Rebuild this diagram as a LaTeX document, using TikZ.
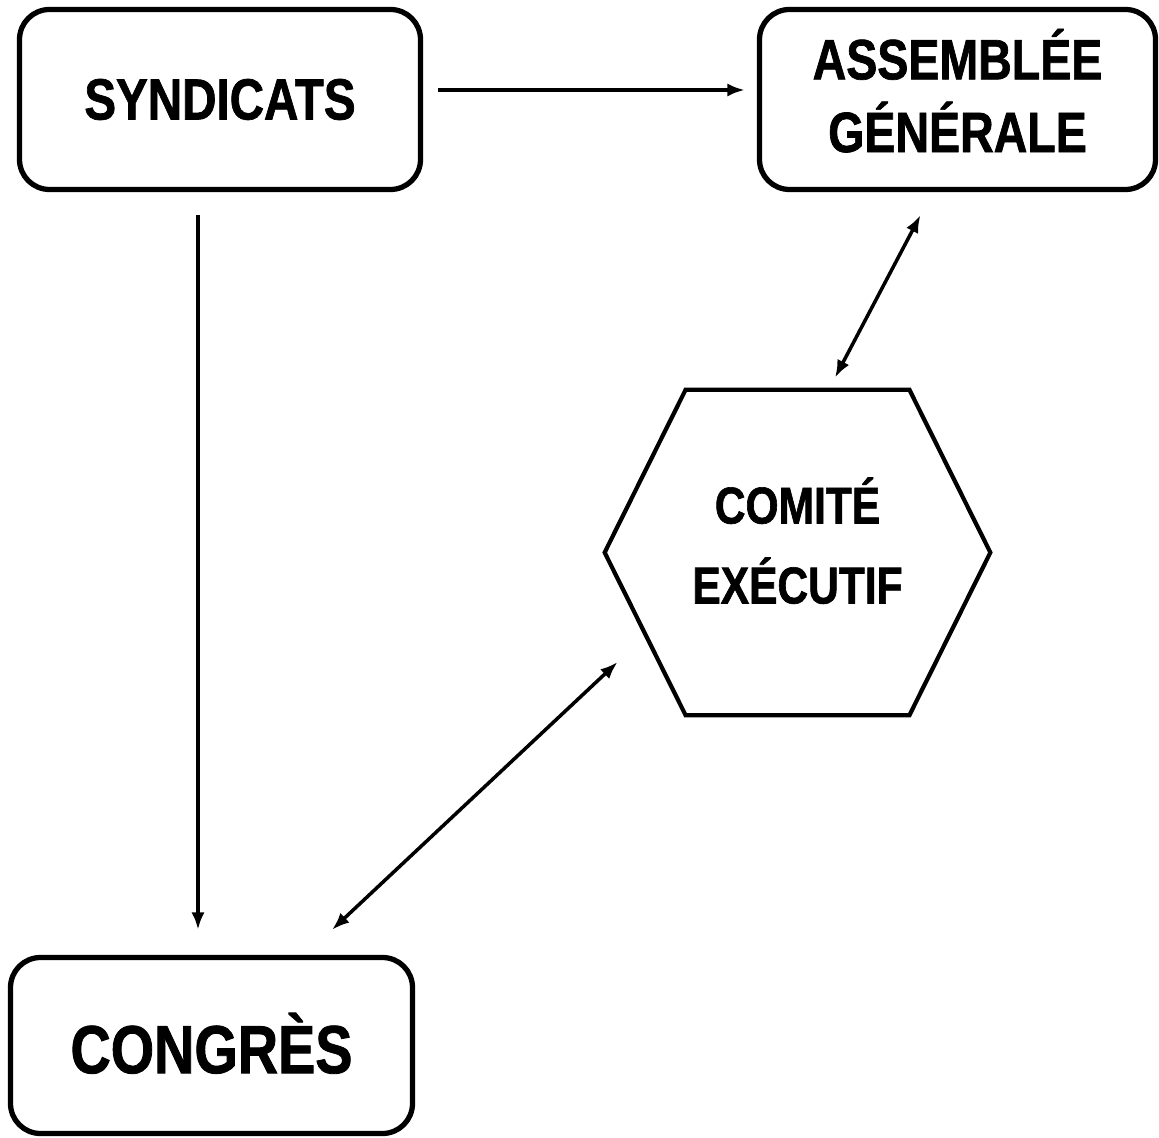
\documentclass[tikz,border=0pt]{standalone}
\usepackage{fontspec}
\setmainfont{Liberation Sans}[FakeStretch=0.82, BoldFeatures={FakeBold=1.2}]
\usetikzlibrary{arrows.meta, positioning}

\begin{document}
\begin{tikzpicture}[>={Latex[length=10pt,width=7.5pt]},
  boite/.style={draw, line width=3pt, rounded corners=0.6cm, align=center, font=\bfseries},
  lien/.style={line width=2pt}]
\useasboundingbox (0,0) rectangle (23.18,-22.76);
\node[boite, minimum width=8.02cm, minimum height=3.6cm, font=\bfseries\fontsize{33}{40}\selectfont] (synd) at (4.4,-1.99) {SYNDICATS};
\node[boite, minimum width=7.92cm, minimum height=3.6cm, text depth=0.36cm, font=\bfseries\fontsize{32.3}{41.4}\selectfont] (ag) at (19.15,-1.99) {ASSEMBLÉE\\GÉNÉRALE};
\node[boite, minimum width=8.04cm, minimum height=3.52cm, text depth=0.1cm, font=\bfseries\fontsize{38.7}{46}\selectfont] (cong) at (4.23,-20.91) {CONGRÈS};
\node[minimum width=7.7cm, minimum height=6.5cm, text depth=0.48cm, align=center, font=\bfseries\fontsize{29.5}{45.5}\selectfont] (comite) at (15.95,-11.05) {COMITÉ\\EXÉCUTIF};
\draw[line width=2.4pt, line join=miter] ([xshift=1.62cm]comite.north west) -- ([xshift=-1.62cm]comite.north east) -- (comite.east)
  -- ([xshift=-1.62cm]comite.south east) -- ([xshift=1.62cm]comite.south west) -- (comite.west) -- cycle;
\draw[lien, ->] ([xshift=0.3cm, yshift=0.19cm]synd.east) -- ([xshift=-0.24cm, yshift=0.19cm]ag.west);
\draw[lien, ->] ([xshift=-0.44cm, yshift=-0.46cm]synd.south) -- ([xshift=-0.27cm, yshift=0.5cm]cong.north);
\draw[lien, <->] ([xshift=-0.74cm, yshift=-0.46cm]ag.south) -- ([xshift=0.75cm, yshift=0.24cm]comite.north);
\draw[lien, <->] ([xshift=0.26cm, yshift=-2.19cm]comite.west) -- ([xshift=2.41cm, yshift=0.5cm]cong.north);
\end{tikzpicture}
\end{document}
